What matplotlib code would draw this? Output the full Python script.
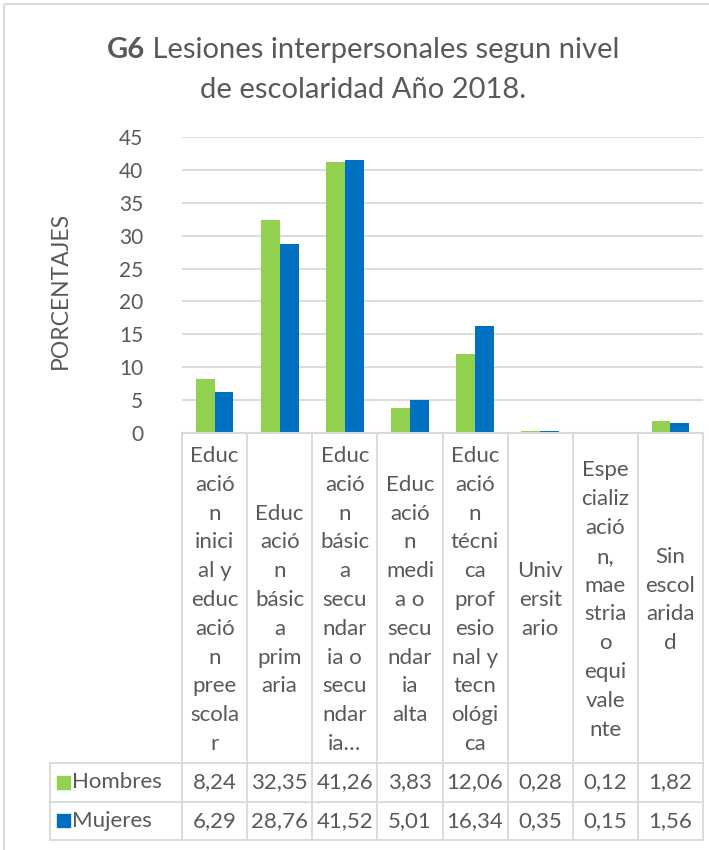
import matplotlib
matplotlib.use("Agg")
import matplotlib.pyplot as plt
from matplotlib.patches import Rectangle
import numpy as np

plt.rcParams['font.family'] = ['Lato', 'DejaVu Sans']

# datos
categorias = [
    "Educ\nació\nn\ninici\nal y\neduc\nació\nn\npree\nscola\nr",
    "Educ\nació\nn\nbásic\na\nprim\naria",
    "Educ\nació\nn\nbásic\na\nsecu\nndar\nia o\nsecu\nndar\nia…",
    "Educ\nació\nn\nmedi\na o\nsecu\nndar\nia\nalta",
    "Educ\nació\nn\ntécni\nca\nprof\nesio\nnal y\ntecn\nológi\nca",
    "Univ\nersit\nario",
    "Espe\ncializ\nació\nn,\nmae\nstria\no\nequi\nvale\nnte",
    "Sin\nescol\narida\nd",
]
hombres = [8.24, 32.35, 41.26, 3.83, 12.06, 0.28, 0.12, 1.82]
mujeres = [6.29, 28.76, 41.52, 5.01, 16.34, 0.35, 0.15, 1.56]
series = ["Hombres", "Mujeres"]
yticks = [0, 5, 10, 15, 20, 25, 30, 35, 40, 45]

verde = '#92D050'
azul = '#0070C0'
gris_txt = '#595959'
gris_lin = '#D9D9D9'

W, H = 709, 850
fig = plt.figure(figsize=(W / 100, H / 100), dpi=100)

# coordenadas en pixeles
x0, x1 = 182, 703
y0, y45 = 433, 137
ax = fig.add_axes([x0 / W, 1 - y0 / H, (x1 - x0) / W, (y0 - y45) / H])
n = len(categorias)
x = np.arange(n)
bw = 0.29
ax.bar(x - bw / 2, hombres, bw, color=verde, zorder=3)
ax.bar(x + bw / 2, mujeres, bw, color=azul, zorder=3)
ax.set_xlim(-0.5, n - 0.5)
ax.set_ylim(0, 45)
ax.set_yticks(yticks)
ax.set_yticklabels([str(t) for t in yticks], fontsize=15, color=gris_txt)
ax.yaxis.grid(True, color=gris_lin, linewidth=1.3)
ax.set_axisbelow(True)
ax.tick_params(axis='y', length=0, pad=28)
ax.tick_params(axis='x', length=0, labelbottom=False)
for s in ax.spines.values():
    s.set_visible(False)

# capa superior en pixeles para la tabla y el titulo
ov = fig.add_axes([0, 0, 1, 1], zorder=5)
ov.set_xlim(0, W)
ov.set_ylim(H, 0)
ov.axis('off')
ov.patch.set_alpha(0)

# borde del grafico
ov.add_patch(Rectangle((4, 4), W + 10, H + 10, fill=False, edgecolor=gris_lin, linewidth=1.5))

# tabla de datos
colw = (x1 - x0) / n
tl = 50
r0, r1, r2 = 763, 802, 840
ov.plot([x0, x1], [y0, y0], color=gris_lin, lw=1.5)
for i in range(n + 1):
    xc = x0 + i * colw
    ov.plot([xc, xc], [y0, r2], color=gris_lin, lw=1.3)
ov.plot([tl, tl], [r0, r2], color=gris_lin, lw=1.3)
for yy in (r0, r1, r2):
    ov.plot([tl, x1], [yy, yy], color=gris_lin, lw=1.3)

for i, cat in enumerate(categorias):
    xc = x0 + (i + 0.5) * colw
    ov.text(xc, (y0 + r0) / 2 + 2, cat, ha='center', va='center', fontsize=16,
            color=gris_txt, linespacing=1.55)
    ov.text(xc, (r0 + r1) / 2, f"{hombres[i]:.2f}".replace('.', ','), ha='center',
            va='center', fontsize=16, color=gris_txt)
    ov.text(xc, (r1 + r2) / 2, f"{mujeres[i]:.2f}".replace('.', ','), ha='center',
            va='center', fontsize=16, color=gris_txt)

for nombre, color, (ra, rb) in zip(series, [verde, azul], [(r0, r1), (r1, r2)]):
    ym = (ra + rb) / 2
    ov.add_patch(Rectangle((57, ym - 7), 13, 13, color=color))
    ov.text(72, ym, nombre, ha='left', va='center', fontsize=16, color=gris_txt)

# eje y
ov.text(60, 290, "PORCENTAJES", rotation=90, ha='center', va='center',
        fontsize=16.5, color=gris_txt)

# titulo con "G6" en negrita
fig.canvas.draw()
r = fig.canvas.get_renderer()
t1 = ov.text(0, 50, "G6", fontsize=21, fontweight='bold', color=gris_txt, va='center', ha='left')
t2 = ov.text(0, 50, " Lesiones interpersonales segun nivel", fontsize=21, color=gris_txt,
             va='center', ha='left')
w1 = t1.get_window_extent(r).width
w2 = t2.get_window_extent(r).width
start = 363 - (w1 + w2) / 2
t1.set_x(start)
t2.set_x(start + w1)
ov.text(363, 90, "de escolaridad Año 2018.", fontsize=21, color=gris_txt,
        ha='center', va='center')

fig.savefig("out.png", dpi=100)
